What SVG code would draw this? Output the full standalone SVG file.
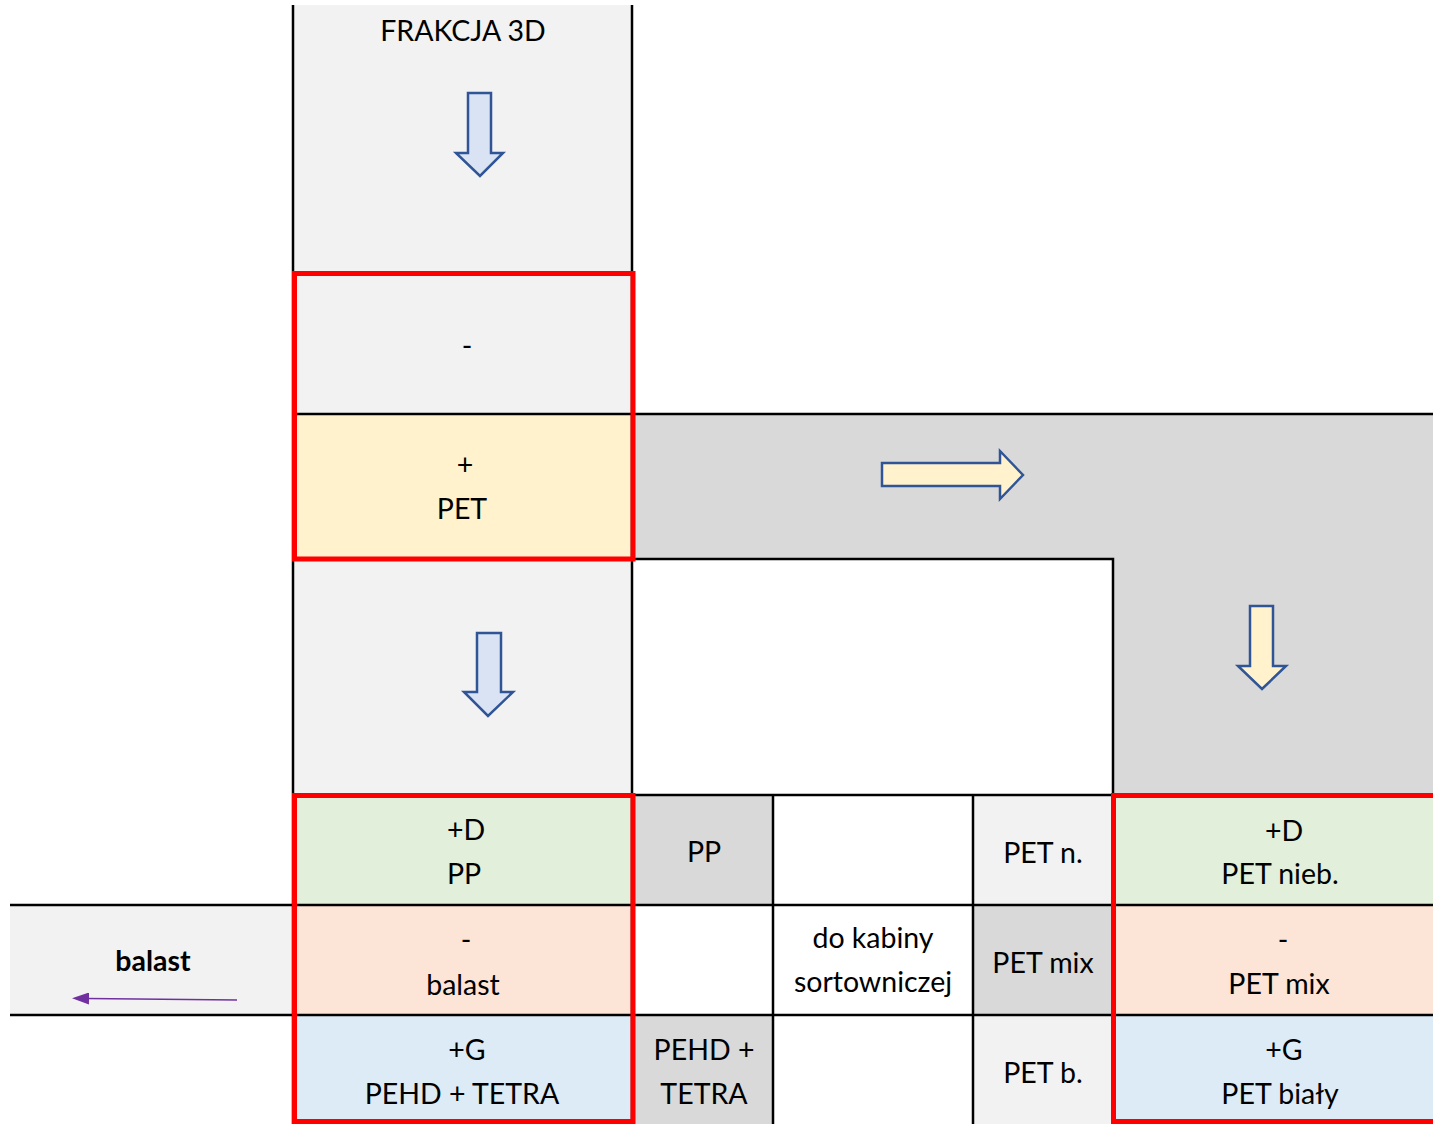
<svg xmlns="http://www.w3.org/2000/svg" width="1433" height="1124" viewBox="0 0 1433 1124">
<style>
text{font-family:Lato,"Liberation Sans",sans-serif;font-size:28.5px;fill:#000;text-anchor:middle}
.b{font-weight:bold}
.ln{stroke:#000;stroke-width:2.5;fill:none}
.red{stroke:#ff0000;stroke-width:5;fill:none}
.arB{fill:#dae3f3;stroke:#2f5597;stroke-width:2.5}
.arY{fill:#fff2cc;stroke:#2f5597;stroke-width:2.5}
</style>
<defs>
<marker id="pa" markerWidth="17" markerHeight="12" refX="2" refY="6" orient="auto" markerUnits="userSpaceOnUse" viewBox="0 0 17 12"><path d="M0,0 L17,6 L0,12 Z" fill="#7030a0"/></marker>
</defs>
<rect width="1433" height="1124" fill="#fff"/>
<g id="frakcja">
<rect x="293" y="5" width="339" height="268" fill="#f2f2f2"/>
<text x="463" y="41">FRAKCJA 3D</text>
</g>
<g id="minus-top">
<rect x="293" y="273" width="339" height="141" fill="#f2f2f2"/>
<text x="467" y="356">-</text>
</g>
<g id="pet">
<rect x="293" y="414" width="339" height="145" fill="#fff2cc"/>
<text x="465" y="475">+</text>
<text x="462" y="519">PET</text>
</g>
<g id="band">
<path d="M632,414 H1433 V795 H1113 V559 H632 Z" fill="#d9d9d9"/>
</g>
<g id="left-mid">
<rect x="293" y="559" width="339" height="236" fill="#f2f2f2"/>
</g>
<g id="pp-left">
<rect x="293" y="795" width="339" height="110" fill="#e2efda"/>
<text x="466" y="840">+D</text>
<text x="464" y="884">PP</text>
</g>
<g id="balast-left">
<rect x="293" y="905" width="339" height="110" fill="#fce4d6"/>
<text x="466" y="950">-</text>
<text x="463" y="995">balast</text>
</g>
<g id="pehd-left">
<rect x="293" y="1015" width="339" height="109" fill="#ddebf7"/>
<text x="467" y="1060">+G</text>
<text x="462" y="1104">PEHD + TETRA</text>
</g>
<g id="pp">
<rect x="632" y="795" width="141" height="110" fill="#d9d9d9"/>
<text x="704" y="862">PP</text>
</g>
<g id="empty">
<rect x="632" y="905" width="141" height="110" fill="#fff"/>
</g>
<g id="pehd">
<rect x="632" y="1015" width="141" height="109" fill="#d9d9d9"/>
<text x="704" y="1060">PEHD +</text>
<text x="704" y="1104">TETRA</text>
</g>
<g id="kabina">
<rect x="773" y="795" width="200" height="329" fill="#fff"/>
<text x="873" y="948">do kabiny</text>
<text x="873" y="992">sortowniczej</text>
</g>
<g id="pet-n">
<rect x="973" y="795" width="140" height="110" fill="#f2f2f2"/>
<text x="1043" y="863">PET n.</text>
</g>
<g id="pet-mix">
<rect x="973" y="905" width="140" height="110" fill="#d9d9d9"/>
<text x="1043" y="973">PET mix</text>
</g>
<g id="pet-b">
<rect x="973" y="1015" width="140" height="109" fill="#f2f2f2"/>
<text x="1043" y="1083">PET b.</text>
</g>
<g id="pet-nieb">
<rect x="1113" y="795" width="320" height="110" fill="#e2efda"/>
<text x="1284" y="841">+D</text>
<text x="1280" y="884">PET nieb.</text>
</g>
<g id="pet-mix-r">
<rect x="1113" y="905" width="320" height="110" fill="#fce4d6"/>
<text x="1283" y="950">-</text>
<text x="1279" y="994">PET mix</text>
</g>
<g id="pet-bialy">
<rect x="1113" y="1015" width="320" height="109" fill="#ddebf7"/>
<text x="1284" y="1060">+G</text>
<text x="1280" y="1104">PET biały</text>
</g>
<g id="balast">
<rect x="10" y="905" width="283" height="110" fill="#f2f2f2"/>
<text class="b" x="153" y="971">balast</text>
</g>
<g id="grid">
<path class="ln" d="M293,5 V1124 M632,5 V1124 M293,414 H1433 M632,559 H1113 V1124 M293,795 H1433 M10,905 H1433 M10,1015 H1433 M773,795 V1124 M973,795 V1124"/>
</g>
<g id="red-frames">
<rect class="red" x="294.5" y="273.5" width="338.5" height="285.5"/>
<rect class="red" x="294.5" y="795.5" width="338.5" height="326"/>
<rect class="red" x="1113.5" y="795.5" width="330" height="326"/>
</g>
<g id="connectors">
<path class="arB" d="M468,93 H491 V153 H503 L480,176 L456,153 H468 Z"/>
<path class="arB" d="M477,633 H501 V692 H513 L488,716 L464,692 H477 Z"/>
<path class="arY" d="M882,463 H1000 V451 L1023,475 L1000,499 V486 H882 Z"/>
<path class="arY" d="M1250,606 H1273 V666 H1286 L1262,689 L1238,666 H1250 Z"/>
<path d="M237,1000 L87,998.5" stroke="#7030a0" stroke-width="1.5" fill="none" marker-end="url(#pa)"/>
</g>
</svg>
